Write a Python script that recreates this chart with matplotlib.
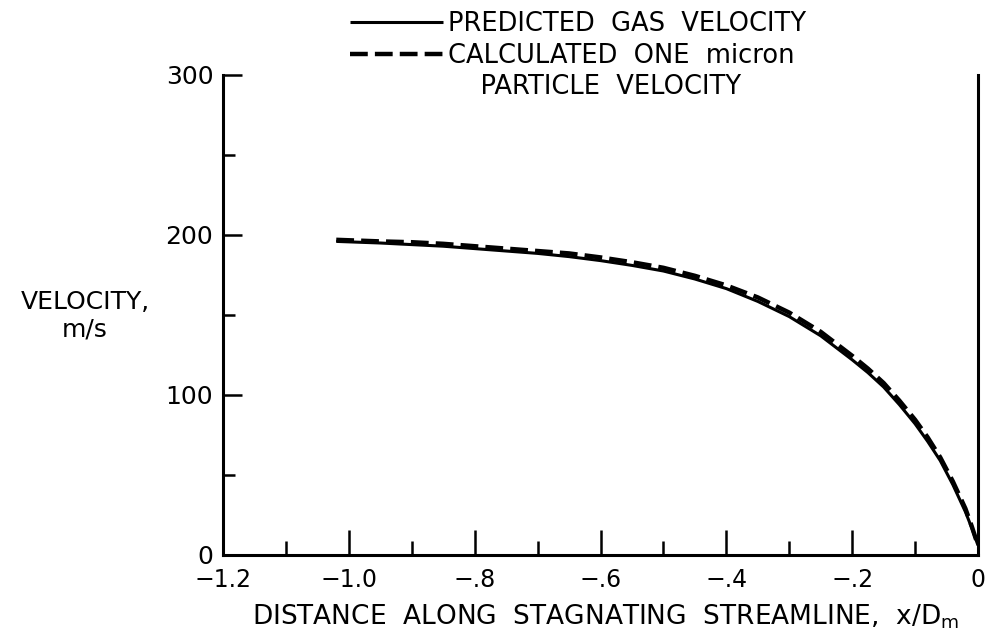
import matplotlib
matplotlib.use("Agg")
import matplotlib.pyplot as plt
from matplotlib.lines import Line2D
from matplotlib.ticker import FixedLocator, FixedFormatter

# ---- data ----
x_pos = [-1.02, -0.95, -0.9, -0.85, -0.8, -0.75, -0.7, -0.65, -0.6, -0.55,
         -0.5, -0.45, -0.4, -0.35, -0.3, -0.25, -0.2, -0.175, -0.15, -0.125,
         -0.1, -0.08, -0.06, -0.04, -0.02, -0.01, 0.0]
gas_velocity = [196, 195, 194, 193, 191.5, 190, 188.5, 186.5, 184, 181,
                177.5, 172.5, 166.5, 158.5, 149, 137, 122, 114, 105, 94,
                82, 71, 59, 44, 27, 17, 6]
particle_velocity = [197, 196, 195.5, 194.5, 193, 191.5, 190, 188.5, 186, 183,
                     179.5, 174.5, 168.5, 161, 151.5, 139.5, 124.5, 116.5, 107.5, 96.5,
                     84.5, 73.5, 61, 46, 29, 18, 6]

x_major = [-1.2, -1.0, -0.8, -0.6, -0.4, -0.2, 0.0]
x_major_labels = ["\u22121.2", "\u22121.0", "\u2212.8", "\u2212.6", "\u2212.4", "\u2212.2", "0"]
x_minor = [-1.1, -0.9, -0.7, -0.5, -0.3, -0.1]
y_major = [0, 100, 200, 300]
y_major_labels = ["0", "100", "200", "300"]
y_minor = [50, 150, 250]

legend_labels = ["PREDICTED  GAS  VELOCITY", "CALCULATED  ONE  micron",
                 "    PARTICLE  VELOCITY"]

plt.rcParams['font.family'] = ['DejaVu Sans']

fig = plt.figure(figsize=(9.94, 6.44), dpi=100)
ax = fig.add_axes([223/994, 1 - 555/644, (978 - 223)/994, (555 - 75)/644])

solid, = ax.plot(x_pos, gas_velocity, color='black', lw=2.2, solid_capstyle='butt')
dashed, = ax.plot(x_pos, particle_velocity, color='black', lw=3.2,
                  dashes=(4.0, 1.6), dash_capstyle='butt')

ax.set_xlim(-1.2, 0)
ax.set_ylim(0, 300)

for s in ['left', 'bottom', 'right']:
    ax.spines[s].set_linewidth(2.2)
ax.spines['top'].set_visible(False)

ax.xaxis.set_major_locator(FixedLocator(x_major))
ax.xaxis.set_major_formatter(FixedFormatter(x_major_labels))
ax.xaxis.set_minor_locator(FixedLocator(x_minor))
ax.yaxis.set_major_locator(FixedLocator(y_major))
ax.yaxis.set_major_formatter(FixedFormatter(y_major_labels))
ax.yaxis.set_minor_locator(FixedLocator(y_minor))

ax.tick_params(axis='x', which='major', direction='in', length=18, width=1.8,
               labelsize=17, pad=9.5, top=False)
ax.tick_params(axis='x', which='minor', direction='in', length=10, width=1.8, top=False)
ax.tick_params(axis='y', which='major', direction='in', length=14, width=1.8,
               labelsize=18, pad=7, right=False)
ax.tick_params(axis='y', which='minor', direction='in', length=8.5, width=1.8, right=False)

ax.set_xlabel(r"DISTANCE  ALONG  STAGNATING  STREAMLINE,  x/D$_\mathregular{m}$", fontsize=19)
ax.xaxis.set_label_coords((606 - 223) / 755, -(617 - 555) / 480)
ax.xaxis.label.set_va('center')

ax.set_ylabel("VELOCITY,\nm/s", fontsize=18, rotation=0, ha='center', va='center',
              multialignment='center')
ax.yaxis.set_label_coords((85 - 223) / 755, (555 - 316) / 480)

blank = Line2D([], [], color='none')
leg = ax.legend([solid, dashed, blank], legend_labels,
                loc='upper left', bbox_to_anchor=(350/994, 1 - 11/644),
                bbox_transform=fig.transFigure, frameon=False, fontsize=18.5,
                handlelength=3.6, handletextpad=0.2, labelspacing=0.22,
                borderpad=0, borderaxespad=0)

fig.savefig("out.png", dpi=100, facecolor='white')
